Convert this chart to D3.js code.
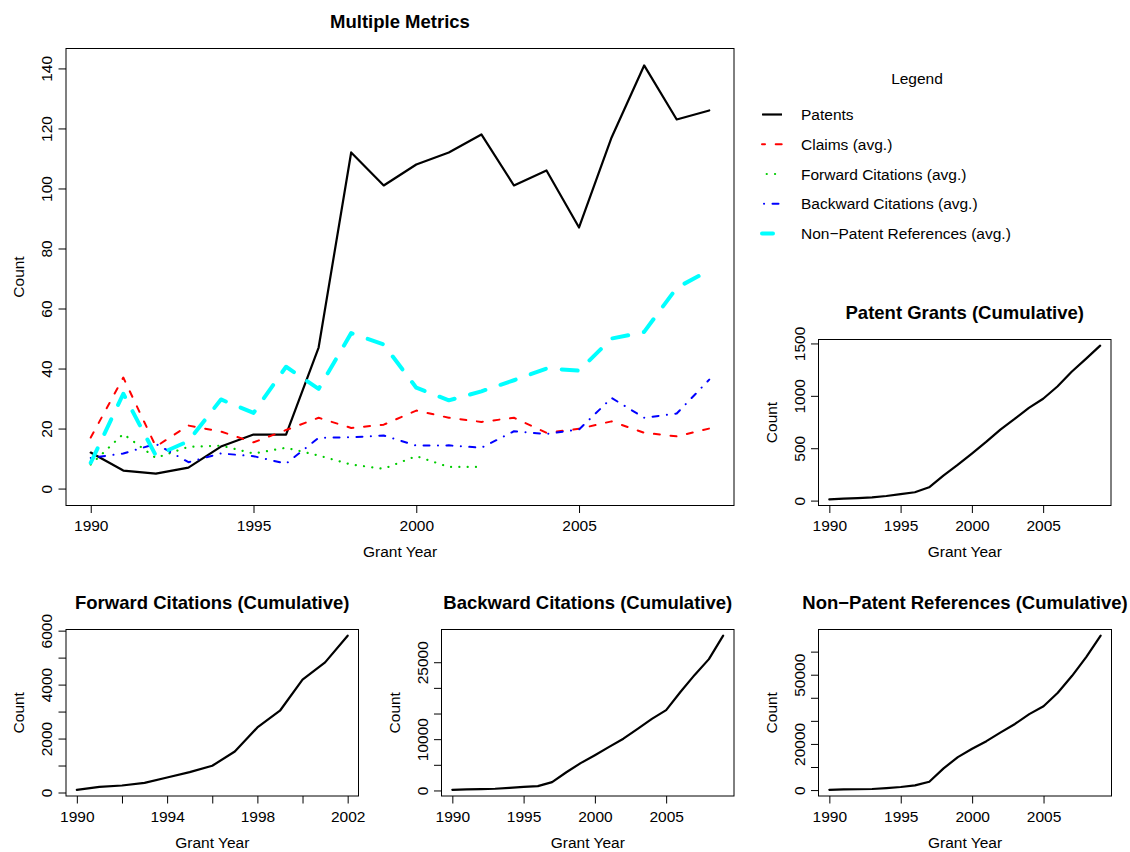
<!DOCTYPE html>
<html>
<head>
<meta charset="utf-8">
<script src="https://cdn.jsdelivr.net/npm/d3@7"></script>
<style>
  body { margin: 0; background: #fff; }
  svg { display: block; }
  text { font-family: "Liberation Sans", Arial, Helvetica, sans-serif; fill: #000; }
</style>
</head>
<body>
<svg id="chart" width="1130" height="852"></svg>
<script>
// ---- data ----
const years = [1990, 1991, 1992, 1993, 1994, 1995, 1996, 1997, 1998, 1999,
               2000, 2001, 2002, 2003, 2004, 2005, 2006, 2007, 2008, 2009];
const fwdYears = [1990, 1991, 1992, 1993, 1994, 1995, 1996, 1997, 1998, 1999, 2000, 2001, 2002];

// yearly counts / averages
const patents    = [12, 6, 5, 7, 14, 18, 18, 47, 112, 101, 108, 112, 118, 101, 106, 87, 117, 141, 123, 126];
const claimsAvg  = [17, 37, 14, 21, 19, 15.4, 19.5, 23.6, 20.2, 21.3, 26, 23.6, 22.2, 23.6, 18.6, 19.9, 22.4, 18.6, 17.4, 20];
const fwdAvg     = [8, 18.2, 10.2, 13.9, 14.3, 11.7, 13.6, 11, 8, 6.6, 10.8, 7.2, 7.2, null, null, null, null, null, null, null];
const bwdAvg     = [10.2, 11.7, 14.9, 8.8, 11.7, 10.8, 8.3, 16.9, 17.1, 17.7, 14.3, 14.4, 13.6, 19.1, 18.2, 19.7, 30.2, 23.6, 25, 36.3];
const nplAvg     = [8.6, 31.6, 11, 15.8, 29.7, 25.2, 40.6, 33.2, 51.8, 48, 33.6, 29.4, 32.4, 36.1, 40, 39.3, 50, 52.2, 66.9, 72.7];

// cumulative totals
const patentsCum = [12, 18, 23, 30, 44, 62, 80, 127, 239, 340, 448, 560, 678, 779, 885, 972, 1089, 1230, 1353, 1479];
const fwdCum     = [99, 210, 260, 359, 557, 755, 990, 1521, 2412, 3031, 4181, 4824, 5814];
const bwdCum     = [122, 192, 267, 329, 493, 687, 836, 1630, 3545, 5333, 6877, 8490, 10095, 12024, 13953, 15667, 19200, 22528, 25603, 30177];
const nplCum     = [103, 293, 348, 459, 875, 1329, 2060, 3620, 9422, 14270, 17899, 21192, 25015, 28661, 32901, 36320, 42170, 49530, 57759, 66919];

// tick values and the labels shown
const mainYTicks   = [0, 20, 40, 60, 80, 100, 120, 140];
const yearTicks    = [1990, 1995, 2000, 2005];
const fwdYearTicks = [1990, 1992, 1994, 1996, 1998, 2000, 2002];
const fwdYearLabels = [1990, 1994, 1998, 2002];
const patYTicks  = [0, 500, 1000, 1500];
const fwdYTicks  = [0, 1000, 2000, 3000, 4000, 5000, 6000];
const fwdYLabels = [0, 2000, 4000, 6000];
const bwdYTicks  = [0, 5000, 10000, 15000, 20000, 25000];
const bwdYLabels = [0, 10000, 25000];
const nplYTicks  = [0, 10000, 20000, 30000, 40000, 50000, 60000];
const nplYLabels = [0, 20000, 50000];

const seriesNames = ["Patents", "Claims (avg.)", "Forward Citations (avg.)",
                     "Backward Citations (avg.)", "Non\u2212Patent References (avg.)"];
const seriesColors = ["#000000", "#ff0000", "#00cd00", "#0000ff", "#00ffff"];

// ---- drawing ----
const FONT = "15.5px";
const TITLE_FONT = "18.5px";
const svg = d3.select("#chart");
svg.append("rect").attr("width", 1130).attr("height", 852).attr("fill", "#fff");

const styles = [
  { width: 2.2, dash: null, cap: "round" },
  { width: 2, dash: "6,10.7", cap: "round" },
  { width: 2.2, dash: "0.1,8.2", cap: "round" },
  { width: 2, dash: "0.1,8.4,6,8.4", cap: "round" },
  { width: 4, dash: "16,16", cap: "round" }
];

// R-style padded range: 4% on each side
const pad = ([a, b]) => { const r = (b - a) * 0.04; return [a - r, b + r]; };

function panel(cfg) {
  const [L, R, T, B] = cfg.box;
  const x = d3.scaleLinear().domain(pad(cfg.xlim)).range([L, R]);
  const y = d3.scaleLinear().domain(pad(cfg.ylim)).range([B, T]);
  const g = svg.append("g");

  // x axis
  const xLab = new Set(cfg.xLabels || cfg.xTicks);
  const xa = g.append("g").attr("transform", `translate(0,${B})`)
    .call(d3.axisBottom(x).tickValues(cfg.xTicks).tickSize(7.5).tickSizeOuter(0)
      .tickFormat(d => xLab.has(d) ? d : ""));
  xa.select(".domain").remove();
  xa.selectAll("line").attr("stroke", "#000");
  xa.selectAll("text").attr("y", 25.6).attr("dy", null)
    .style("font-size", FONT).attr("fill", "#000");

  // y axis
  const yLab = new Set(cfg.yLabels || cfg.yTicks);
  const ya = g.append("g").attr("transform", `translate(${L},0)`)
    .call(d3.axisLeft(y).tickValues(cfg.yTicks).tickSize(7.5).tickSizeOuter(0)
      .tickFormat(d => yLab.has(d) ? d : ""));
  ya.select(".domain").remove();
  ya.selectAll("line").attr("stroke", "#000");
  ya.selectAll("text").attr("transform", "rotate(-90)")
    .attr("x", 0).attr("y", -14).attr("dy", null)
    .attr("text-anchor", "middle")
    .style("font-size", FONT).attr("fill", "#000");

  // frame
  g.append("rect").attr("x", L).attr("y", T).attr("width", R - L).attr("height", B - T)
    .attr("fill", "none").attr("stroke", "#000").attr("stroke-width", 1);

  // titles
  g.append("text").attr("x", (L + R) / 2).attr("y", T - 21)
    .attr("text-anchor", "middle").style("font-size", TITLE_FONT).style("font-weight", "bold")
    .text(cfg.title);
  g.append("text").attr("x", (L + R) / 2).attr("y", B + 51.5)
    .attr("text-anchor", "middle").style("font-size", FONT).text("Grant Year");
  g.append("text").attr("transform", `translate(${L - 42},${(T + B) / 2}) rotate(-90)`)
    .attr("text-anchor", "middle").style("font-size", FONT).text("Count");

  return { g, x, y };
}

// main chart with the five yearly series
const main = panel({
  box: [66, 734, 48.5, 505.5], xlim: d3.extent(years), ylim: [0, d3.max(patents)],
  xTicks: yearTicks, yTicks: mainYTicks, title: "Multiple Metrics"
});
const mainSeries = [patents, claimsAvg, fwdAvg, bwdAvg, nplAvg];
mainSeries.forEach((vals, i) => {
  const line = d3.line()
    .defined(d => d[1] != null)
    .x(d => main.x(d[0])).y(d => main.y(d[1]));
  main.g.append("path")
    .datum(years.map((yr, k) => [yr, vals[k]]))
    .attr("d", line)
    .attr("fill", "none")
    .attr("stroke", seriesColors[i])
    .attr("stroke-width", styles[i].width)
    .attr("stroke-linecap", styles[i].cap)
    .attr("stroke-linejoin", "round")
    .attr("stroke-dasharray", styles[i].dash);
});

// legend
const lg = svg.append("g");
lg.append("text").attr("x", 917).attr("y", 84).attr("text-anchor", "middle")
  .style("font-size", FONT).text("Legend");
const legendOffsets = [0, 3, 3.6, 20.9, 5];
seriesNames.forEach((name, i) => {
  const cy = 114.5 + i * 29.75;
  lg.append("line").attr("x1", 762).attr("x2", 782).attr("y1", cy).attr("y2", cy)
    .attr("stroke", seriesColors[i])
    .attr("stroke-width", styles[i].width)
    .attr("stroke-linecap", i === 0 ? "butt" : styles[i].cap)
    .attr("stroke-dasharray", styles[i].dash)
    .attr("stroke-dashoffset", legendOffsets[i]);
  lg.append("text").attr("x", 801).attr("y", cy + 5.5)
    .style("font-size", FONT).text(name);
});

// cumulative panels
function cumLine(p, xs, vals) {
  p.g.append("path")
    .datum(xs.map((yr, k) => [yr, vals[k]]))
    .attr("d", d3.line().x(d => p.x(d[0])).y(d => p.y(d[1])))
    .attr("fill", "none").attr("stroke", "#000")
    .attr("stroke-width", 2.2).attr("stroke-linejoin", "round").attr("stroke-linecap", "round");
}

const pg = panel({
  box: [818.5, 1111, 339.5, 505.5], xlim: d3.extent(years), ylim: d3.extent(patentsCum),
  xTicks: yearTicks, yTicks: patYTicks, title: "Patent Grants (Cumulative)"
});
cumLine(pg, years, patentsCum);

const fc = panel({
  box: [66, 358.5, 629.5, 796], xlim: d3.extent(fwdYears), ylim: d3.extent(fwdCum),
  xTicks: fwdYearTicks, xLabels: fwdYearLabels, yTicks: fwdYTicks, yLabels: fwdYLabels,
  title: "Forward Citations (Cumulative)"
});
cumLine(fc, fwdYears, fwdCum);

const bc = panel({
  box: [441.5, 734, 629.5, 796], xlim: d3.extent(years), ylim: d3.extent(bwdCum),
  xTicks: yearTicks, yTicks: bwdYTicks, yLabels: bwdYLabels,
  title: "Backward Citations (Cumulative)"
});
cumLine(bc, years, bwdCum);

const nc = panel({
  box: [818.5, 1111.5, 629.5, 796], xlim: d3.extent(years), ylim: d3.extent(nplCum),
  xTicks: yearTicks, yTicks: nplYTicks, yLabels: nplYLabels,
  title: "Non\u2212Patent References (Cumulative)"
});
cumLine(nc, years, nplCum);
</script>
</body>
</html>
